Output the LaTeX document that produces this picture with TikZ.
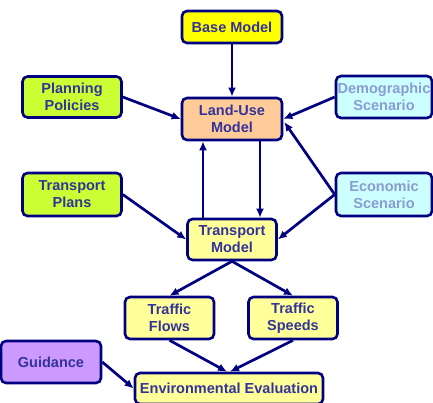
\documentclass[tikz,border=0pt]{standalone}
\usepackage{fontspec}
\setmainfont{Liberation Sans}
\usetikzlibrary{arrows.meta,calc}
\definecolor{navy}{HTML}{000080}
\definecolor{txt}{HTML}{333399}
\definecolor{ltxt}{HTML}{8A9CD0}
\definecolor{cYel}{HTML}{FFFF00}
\definecolor{cLime}{HTML}{CCFF33}
\definecolor{cPeach}{HTML}{FFCC99}
\definecolor{cCyan}{HTML}{CCFFFF}
\definecolor{cLtYel}{HTML}{FFFF99}
\definecolor{cLav}{HTML}{CC99FF}
\tikzset{
  box/.style={draw=navy, line width=2.6pt, rounded corners=5pt, align=center,
    inner sep=0pt, text=txt,
    font=\fontsize{14.5}{17}\selectfont\bfseries},
  conn/.style={draw=navy, line width=2.7pt, -{Latex[length=9pt,width=8pt]}},
}
\begin{document}
\begin{tikzpicture}[x=1pt,y=-1pt]
\useasboundingbox (0,0) rectangle (433,403);
\node[box, fill=cYel, minimum width=100pt, minimum height=32pt] (base) at (232,27) {Base Model};
\node[box, fill=cLime, minimum width=99pt, minimum height=41pt] (plan) at (72,97) {Planning\\Policies};
\node[box, fill=cPeach, minimum width=100pt, minimum height=42pt] (lu) at (232,119) {Land-Use\\Model};
\node[box, fill=cCyan, text=ltxt, minimum width=96pt, minimum height=42pt] (demo) at (384,97) {Demographic\\Scenario};
\node[box, fill=cLime, minimum width=99pt, minimum height=43pt] (tp) at (72,194.5) {Transport\\Plans};
\node[box, fill=cCyan, text=ltxt, minimum width=96pt, minimum height=43pt] (econ) at (384,194.5) {Economic\\Scenario};
\node[box, fill=cLtYel, minimum width=89pt, minimum height=41pt] (tm) at (232,239.5) {Transport\\Model};
\node[box, fill=cLtYel, minimum width=89pt, minimum height=42pt] (tf) at (169.5,318) {Traffic\\Flows};
\node[box, fill=cLtYel, minimum width=89pt, minimum height=42pt] (ts) at (293,318) {Traffic\\Speeds};
\node[box, fill=cLav, minimum width=100pt, minimum height=42pt] (guid) at (51,362) {Guidance};
\node[box, fill=cLtYel, minimum width=188pt, minimum height=31pt] (env) at (229,388.5) {Environmental Evaluation};

\draw[conn] (base.south) -- (lu.north);
\draw[conn] (plan.east) -- (lu.west);
\draw[conn] (demo.west) -- (lu.east);
\draw[conn] (econ.west) -- ($(lu.east)+(1,3)$);
\draw[conn] (econ.west) -- (tm.east);
\draw[conn] (tp.east) -- (tm.west);
\draw[conn] ($(tm.north)+(-29,0)$) -- ($(lu.south)+(-29,0)$);
\draw[conn] ($(lu.south)+(28,0)$) -- ($(tm.north)+(28,0)$);
\draw[conn] (tm.south) -- (tf.north);
\draw[conn] (tm.south) -- (ts.north);
\draw[conn] (tf.south) -- ($(env.north)+(-2,0)$);
\draw[conn] (ts.south) -- ($(env.north)+(1,0)$);
\draw[conn] (guid.east) -- (env.west);
\end{tikzpicture}
\end{document}
